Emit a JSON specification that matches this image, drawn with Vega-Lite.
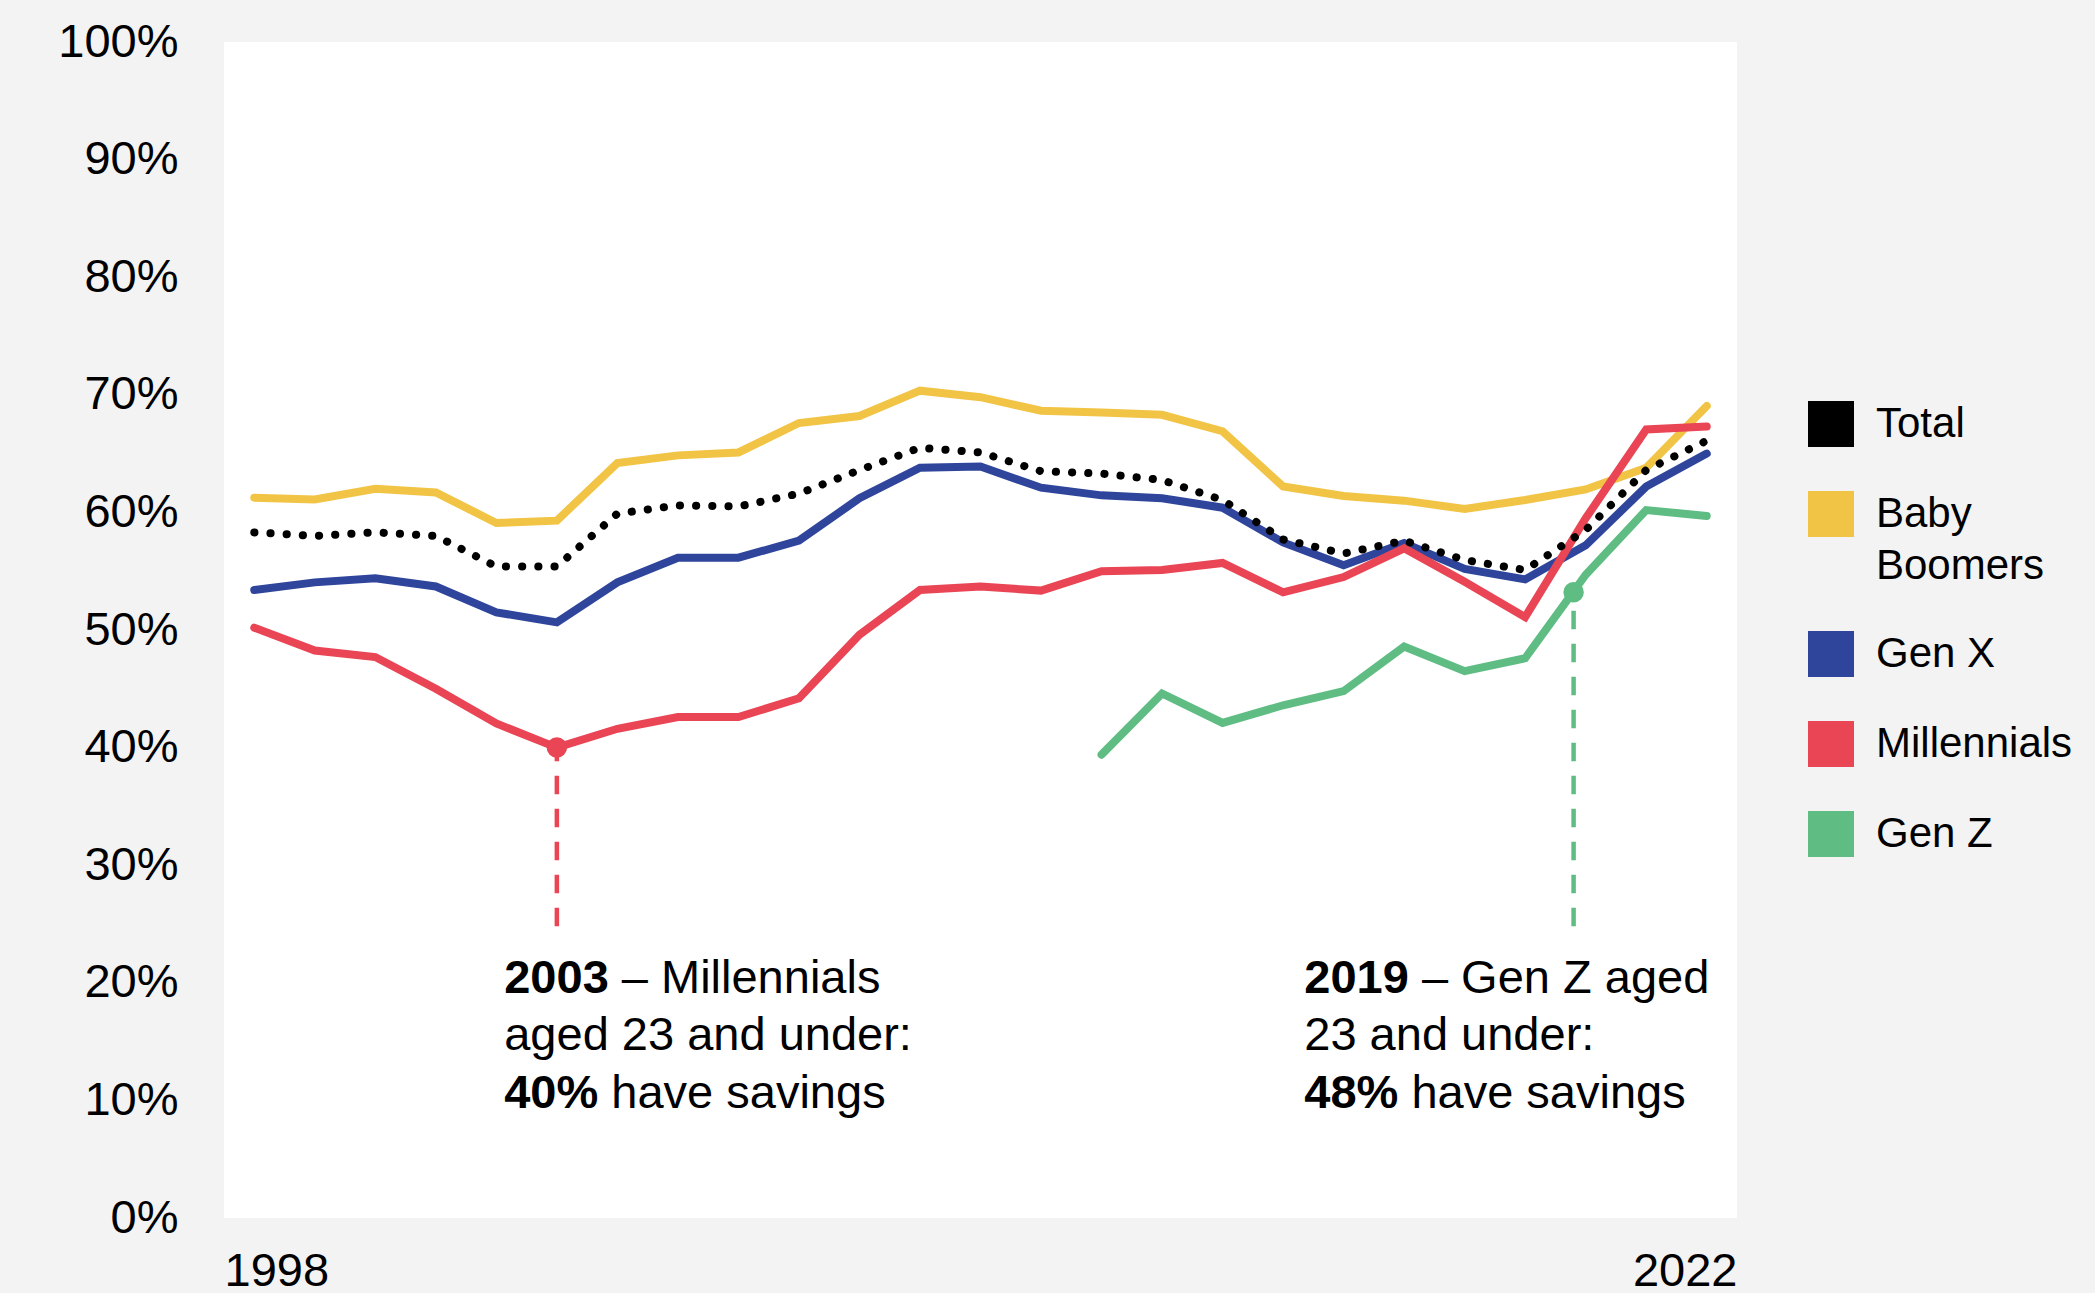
{
  "$schema": "https://vega.github.io/schema/vega-lite/v6.json",
  "width": 1513,
  "height": 1176,
  "autosize": {"type": "none"},
  "padding": {"left": 224, "top": 42, "right": 358, "bottom": 75},
  "background": "#f3f3f3",
  "config": {"view": {"fill": "white", "stroke": null}, "font": "Liberation Sans"},
  "datasets": {
    "savings": [
      {"year":1998,"series":"Baby Boomers","value":61.25},{"year":1999,"series":"Baby Boomers","value":61.1},{"year":2000,"series":"Baby Boomers","value":62.0},{"year":2001,"series":"Baby Boomers","value":61.7},{"year":2002,"series":"Baby Boomers","value":59.1},{"year":2003,"series":"Baby Boomers","value":59.3},{"year":2004,"series":"Baby Boomers","value":64.2},{"year":2005,"series":"Baby Boomers","value":64.85},{"year":2006,"series":"Baby Boomers","value":65.1},{"year":2007,"series":"Baby Boomers","value":67.6},{"year":2008,"series":"Baby Boomers","value":68.2},{"year":2009,"series":"Baby Boomers","value":70.35},{"year":2010,"series":"Baby Boomers","value":69.8},{"year":2011,"series":"Baby Boomers","value":68.65},{"year":2012,"series":"Baby Boomers","value":68.5},{"year":2013,"series":"Baby Boomers","value":68.3},{"year":2014,"series":"Baby Boomers","value":66.9},{"year":2015,"series":"Baby Boomers","value":62.2},{"year":2016,"series":"Baby Boomers","value":61.4},{"year":2017,"series":"Baby Boomers","value":61.0},{"year":2018,"series":"Baby Boomers","value":60.3},{"year":2019,"series":"Baby Boomers","value":61.05},{"year":2020,"series":"Baby Boomers","value":61.95},{"year":2021,"series":"Baby Boomers","value":63.8},{"year":2022,"series":"Baby Boomers","value":69.05},
      {"year":1998,"series":"Gen X","value":53.4},{"year":1999,"series":"Gen X","value":54.05},{"year":2000,"series":"Gen X","value":54.4},{"year":2001,"series":"Gen X","value":53.7},{"year":2002,"series":"Gen X","value":51.5},{"year":2003,"series":"Gen X","value":50.65},{"year":2004,"series":"Gen X","value":54.05},{"year":2005,"series":"Gen X","value":56.15},{"year":2006,"series":"Gen X","value":56.15},{"year":2007,"series":"Gen X","value":57.6},{"year":2008,"series":"Gen X","value":61.2},{"year":2009,"series":"Gen X","value":63.8},{"year":2010,"series":"Gen X","value":63.9},{"year":2011,"series":"Gen X","value":62.1},{"year":2012,"series":"Gen X","value":61.45},{"year":2013,"series":"Gen X","value":61.2},{"year":2014,"series":"Gen X","value":60.4},{"year":2015,"series":"Gen X","value":57.45},{"year":2016,"series":"Gen X","value":55.5},{"year":2017,"series":"Gen X","value":57.4},{"year":2018,"series":"Gen X","value":55.2},{"year":2019,"series":"Gen X","value":54.3},{"year":2020,"series":"Gen X","value":57.2},{"year":2021,"series":"Gen X","value":62.2},{"year":2022,"series":"Gen X","value":65.0},
      {"year":1998,"series":"Millennials","value":50.2},{"year":1999,"series":"Millennials","value":48.25},{"year":2000,"series":"Millennials","value":47.7},{"year":2001,"series":"Millennials","value":45.0},{"year":2002,"series":"Millennials","value":42.05},{"year":2003,"series":"Millennials","value":40.0},{"year":2004,"series":"Millennials","value":41.6},{"year":2005,"series":"Millennials","value":42.6},{"year":2006,"series":"Millennials","value":42.6},{"year":2007,"series":"Millennials","value":44.2},{"year":2008,"series":"Millennials","value":49.6},{"year":2009,"series":"Millennials","value":53.4},{"year":2010,"series":"Millennials","value":53.7},{"year":2011,"series":"Millennials","value":53.35},{"year":2012,"series":"Millennials","value":55.0},{"year":2013,"series":"Millennials","value":55.1},{"year":2014,"series":"Millennials","value":55.7},{"year":2015,"series":"Millennials","value":53.2},{"year":2016,"series":"Millennials","value":54.5},{"year":2017,"series":"Millennials","value":56.95},{"year":2018,"series":"Millennials","value":54.1},{"year":2019,"series":"Millennials","value":51.1},{"year":2020,"series":"Millennials","value":59.5},{"year":2021,"series":"Millennials","value":67.05},{"year":2022,"series":"Millennials","value":67.3},
      {"year":2012,"series":"Gen Z","value":39.4},{"year":2013,"series":"Gen Z","value":44.6},{"year":2014,"series":"Gen Z","value":42.1},{"year":2015,"series":"Gen Z","value":43.6},{"year":2016,"series":"Gen Z","value":44.8},{"year":2017,"series":"Gen Z","value":48.6},{"year":2018,"series":"Gen Z","value":46.5},{"year":2019,"series":"Gen Z","value":47.6},{"year":2020,"series":"Gen Z","value":54.7},{"year":2021,"series":"Gen Z","value":60.2},{"year":2022,"series":"Gen Z","value":59.7},
      {"year":1998,"series":"Total","value":58.3},{"year":1999,"series":"Total","value":58.0},{"year":2000,"series":"Total","value":58.3},{"year":2001,"series":"Total","value":58.0},{"year":2002,"series":"Total","value":55.4},{"year":2003,"series":"Total","value":55.4},{"year":2004,"series":"Total","value":59.9},{"year":2005,"series":"Total","value":60.6},{"year":2006,"series":"Total","value":60.5},{"year":2007,"series":"Total","value":61.6},{"year":2008,"series":"Total","value":63.6},{"year":2009,"series":"Total","value":65.5},{"year":2010,"series":"Total","value":65.1},{"year":2011,"series":"Total","value":63.5},{"year":2012,"series":"Total","value":63.3},{"year":2013,"series":"Total","value":62.75},{"year":2014,"series":"Total","value":61.05},{"year":2015,"series":"Total","value":57.7},{"year":2016,"series":"Total","value":56.5},{"year":2017,"series":"Total","value":57.6},{"year":2018,"series":"Total","value":55.95},{"year":2019,"series":"Total","value":55.1},{"year":2020,"series":"Total","value":58.5},{"year":2021,"series":"Total","value":63.6},{"year":2022,"series":"Total","value":66.1}
    ],
    "marks": [
      {"series":"Millennials","year":2003,"value":40.0,"base":24.8},
      {"series":"Gen Z","year":2019.8,"value":53.2,"base":24.8}
    ],
    "notes": [
      {"x":2002.13,"y":19.16,"kind":"bold","text":"2003"},
      {"x":2002.13,"y":19.16,"kind":"afterYear","text":"– Millennials"},
      {"x":2002.13,"y":14.27,"kind":"plain","text":"aged 23 and under:"},
      {"x":2002.13,"y":9.38,"kind":"bold","text":"40%"},
      {"x":2002.13,"y":9.38,"kind":"afterPct","text":"have savings"},
      {"x":2015.35,"y":19.16,"kind":"bold","text":"2019"},
      {"x":2015.35,"y":19.16,"kind":"afterYear","text":"– Gen Z aged"},
      {"x":2015.35,"y":14.27,"kind":"plain","text":"23 and under:"},
      {"x":2015.35,"y":9.38,"kind":"bold","text":"48%"},
      {"x":2015.35,"y":9.38,"kind":"afterPct","text":"have savings"}
    ]
  },
  "layer": [
    {
      "data": {"name": "savings"},
      "transform": [{"filter": "datum.series != 'Total'"}],
      "mark": {"type": "line", "strokeWidth": 8, "strokeCap": "round", "strokeJoin": "miter"},
      "encoding": {
        "x": {"field": "year", "type": "quantitative",
          "scale": {"domain": [1997.5, 2022.5], "nice": false, "zero": false},
          "axis": {"values": [1997.5, 2022.5], "labelExpr": "datum.value < 2010 ? '1998' : '2022'", "labelFlush": true, "domain": false, "ticks": false, "grid": false, "title": null, "labelFontSize": 47, "labelPadding": 30, "labelColor": "black", "labelFont": "Liberation Sans"}},
        "y": {"field": "value", "type": "quantitative",
          "scale": {"domain": [0, 100], "nice": false},
          "axis": {"values": [0,10,20,30,40,50,60,70,80,90,100], "labelExpr": "datum.value + '%'", "domain": false, "ticks": false, "grid": false, "title": null, "labelFontSize": 47, "labelPadding": 46, "labelColor": "black", "labelFont": "Liberation Sans"}},
        "color": {"field": "series", "type": "nominal",
          "scale": {"domain": ["Total", "Baby Boomers", "Gen X", "Millennials", "Gen Z"], "range": ["#000000", "#F2C446", "#2F459B", "#E94555", "#5FBD84"]},
          "legend": {"orient": "none", "legendX": 1584, "legendY": 359, "title": null, "padding": 0,
            "symbolType": "square", "symbolSize": 2116, "symbolStrokeWidth": 0,
            "labelFontSize": 42, "labelFont": "Liberation Sans", "labelColor": "black", "labelOffset": 22, "labelLimit": 400,
            "rowPadding": 44,
            "labelExpr": "datum.label == 'Baby Boomers' ? ['Baby', 'Boomers'] : datum.label",
            "encode": {
              "symbols": {"update": {"fill": {"scale": "color", "field": "value"}, "strokeDash": {"value": [1, 0]}, "opacity": {"value": 1}}},
              "labels": {"update": {"lineHeight": {"value": 52}}}
            }}}
      }
    },
    {
      "data": {"name": "savings"},
      "transform": [{"filter": "datum.series == 'Total'"}],
      "mark": {"type": "line", "strokeWidth": 8, "strokeCap": "round", "strokeDash": [0.2, 16]},
      "encoding": {
        "x": {"field": "year", "type": "quantitative"},
        "y": {"field": "value", "type": "quantitative"},
        "color": {"field": "series", "type": "nominal"}
      }
    },
    {
      "data": {"name": "marks"},
      "mark": {"type": "rule", "strokeWidth": 4.5, "strokeDash": [18.5, 14.5]},
      "encoding": {
        "x": {"field": "year", "type": "quantitative"},
        "y": {"field": "base", "type": "quantitative"},
        "y2": {"field": "value"},
        "stroke": {"condition": {"test": "datum.series == 'Gen Z'", "value": "#5FBD84"}, "value": "#E94555"}
      }
    },
    {
      "data": {"name": "marks"},
      "mark": {"type": "circle", "size": 420, "opacity": 1},
      "encoding": {
        "x": {"field": "year", "type": "quantitative"},
        "y": {"field": "value", "type": "quantitative"},
        "fill": {"condition": {"test": "datum.series == 'Gen Z'", "value": "#5FBD84"}, "value": "#E94555"}
      }
    },
    {
      "data": {"name": "notes"},
      "transform": [{"filter": "datum.kind == 'bold'"}],
      "mark": {"type": "text", "align": "left", "baseline": "alphabetic", "fontSize": 47, "fontWeight": "bold", "font": "Liberation Sans", "color": "black"},
      "encoding": {
        "x": {"field": "x", "type": "quantitative"},
        "y": {"field": "y", "type": "quantitative"},
        "text": {"field": "text"}
      }
    },
    {
      "data": {"name": "notes"},
      "transform": [{"filter": "datum.kind == 'plain'"}],
      "mark": {"type": "text", "align": "left", "baseline": "alphabetic", "fontSize": 47, "font": "Liberation Sans", "color": "black"},
      "encoding": {
        "x": {"field": "x", "type": "quantitative"},
        "y": {"field": "y", "type": "quantitative"},
        "text": {"field": "text"}
      }
    },
    {
      "data": {"name": "notes"},
      "transform": [{"filter": "datum.kind == 'afterYear'"}],
      "mark": {"type": "text", "align": "left", "baseline": "alphabetic", "fontSize": 47, "font": "Liberation Sans", "color": "black", "dx": 117.6},
      "encoding": {
        "x": {"field": "x", "type": "quantitative"},
        "y": {"field": "y", "type": "quantitative"},
        "text": {"field": "text"}
      }
    },
    {
      "data": {"name": "notes"},
      "transform": [{"filter": "datum.kind == 'afterPct'"}],
      "mark": {"type": "text", "align": "left", "baseline": "alphabetic", "fontSize": 47, "font": "Liberation Sans", "color": "black", "dx": 107.1},
      "encoding": {
        "x": {"field": "x", "type": "quantitative"},
        "y": {"field": "y", "type": "quantitative"},
        "text": {"field": "text"}
      }
    }
  ]
}
